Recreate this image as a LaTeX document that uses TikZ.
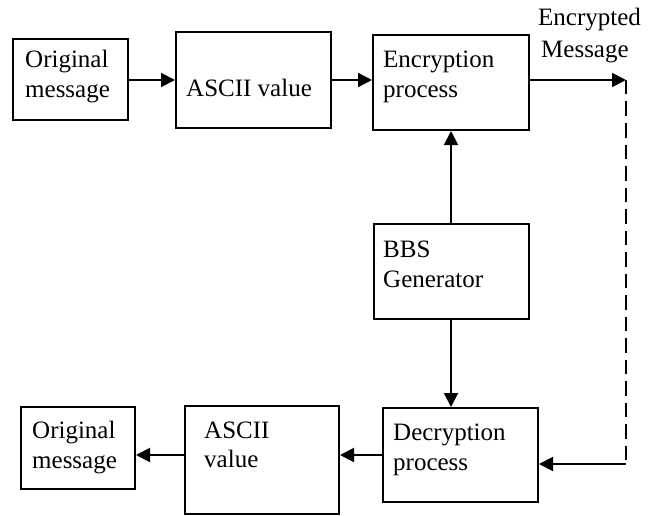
\documentclass[tikz,border=0pt]{standalone}
\usepackage{fontspec}
\setmainfont{Liberation Serif}
\usetikzlibrary{arrows.meta,calc}

\tikzset{
  blk/.style={draw, line width=2pt, rectangle, inner sep=0pt},
  txt/.style={anchor=base west, inner sep=0pt, font=\fontsize{25}{30}\selectfont},
  link/.style={line width=2pt, -{Triangle[length=14pt,width=14pt]}},
  dashlink/.style={line width=2pt, dash pattern=on 14.5pt off 7pt},
}

\begin{document}
\begin{tikzpicture}[x=1pt, y=-1pt]
\useasboundingbox (0,0) rectangle (658,516);

% blocks
\node[blk, minimum width=115pt, minimum height=81pt] (om1) at (70.5,80) {};
\node[blk, minimum width=155pt, minimum height=96pt] (av1) at (253.5,80) {};
\node[blk, minimum width=156pt, minimum height=95pt] (enc) at (451,82.5) {};
\node[blk, minimum width=155pt, minimum height=95pt] (bbs) at (451,271.5) {};
\node[blk, minimum width=155pt, minimum height=94pt] (dec) at (460.5,455) {};
\node[blk, minimum width=154pt, minimum height=108pt] (av2) at (262,460) {};
\node[blk, minimum width=114pt, minimum height=82pt] (om2) at (78,448) {};

% labels
\node[txt] (om1a) at (25,68) {Original};
\node[txt] (om1b) at (25,98) {message};
\node[txt] (av1a) at (186,97) {ASCII value};
\node[txt] (enca) at (383,68) {Encryption};
\node[txt] (encb) at (383,98) {process};
\node[txt] (emsa) at (538,26) {Encrypted};
\node[txt] (emsb) at (541,58) {Message};
\node[txt] (bbsa) at (383,257) {BBS};
\node[txt] (bbsb) at (383,287) {Generator};
\node[txt] (deca) at (393,440) {Decryption};
\node[txt] (decb) at (393,470) {process};
\node[txt] (av2a) at (204,438) {ASCII};
\node[txt] (av2b) at (204,467) {value};
\node[txt] (om2a) at (32,438) {Original};
\node[txt] (om2b) at (32,468) {message};

% free ends of the transmission line
\coordinate (em) at (626,80);
\coordinate (dm) at (626,464);

% connectors
\draw[link] (om1.east) -- (om1.east -| av1.west);
\draw[link] (av1.east) -- (av1.east -| enc.west);
\draw[link] (em -| enc.east) -- (em);
\draw[dashlink] (em) -- (dm);
\draw[link] (dm) -- (dm -| dec.east);
\draw[link] (bbs.north) -- (bbs.north |- enc.south);
\draw[link] (bbs.south) -- (bbs.south |- dec.north);
\draw[link] (dec.west) -- (dec.west -| av2.east);
\draw[link] (av2.west |- dec.west) -- (om2.east |- dec.west);
\end{tikzpicture}
\end{document}
